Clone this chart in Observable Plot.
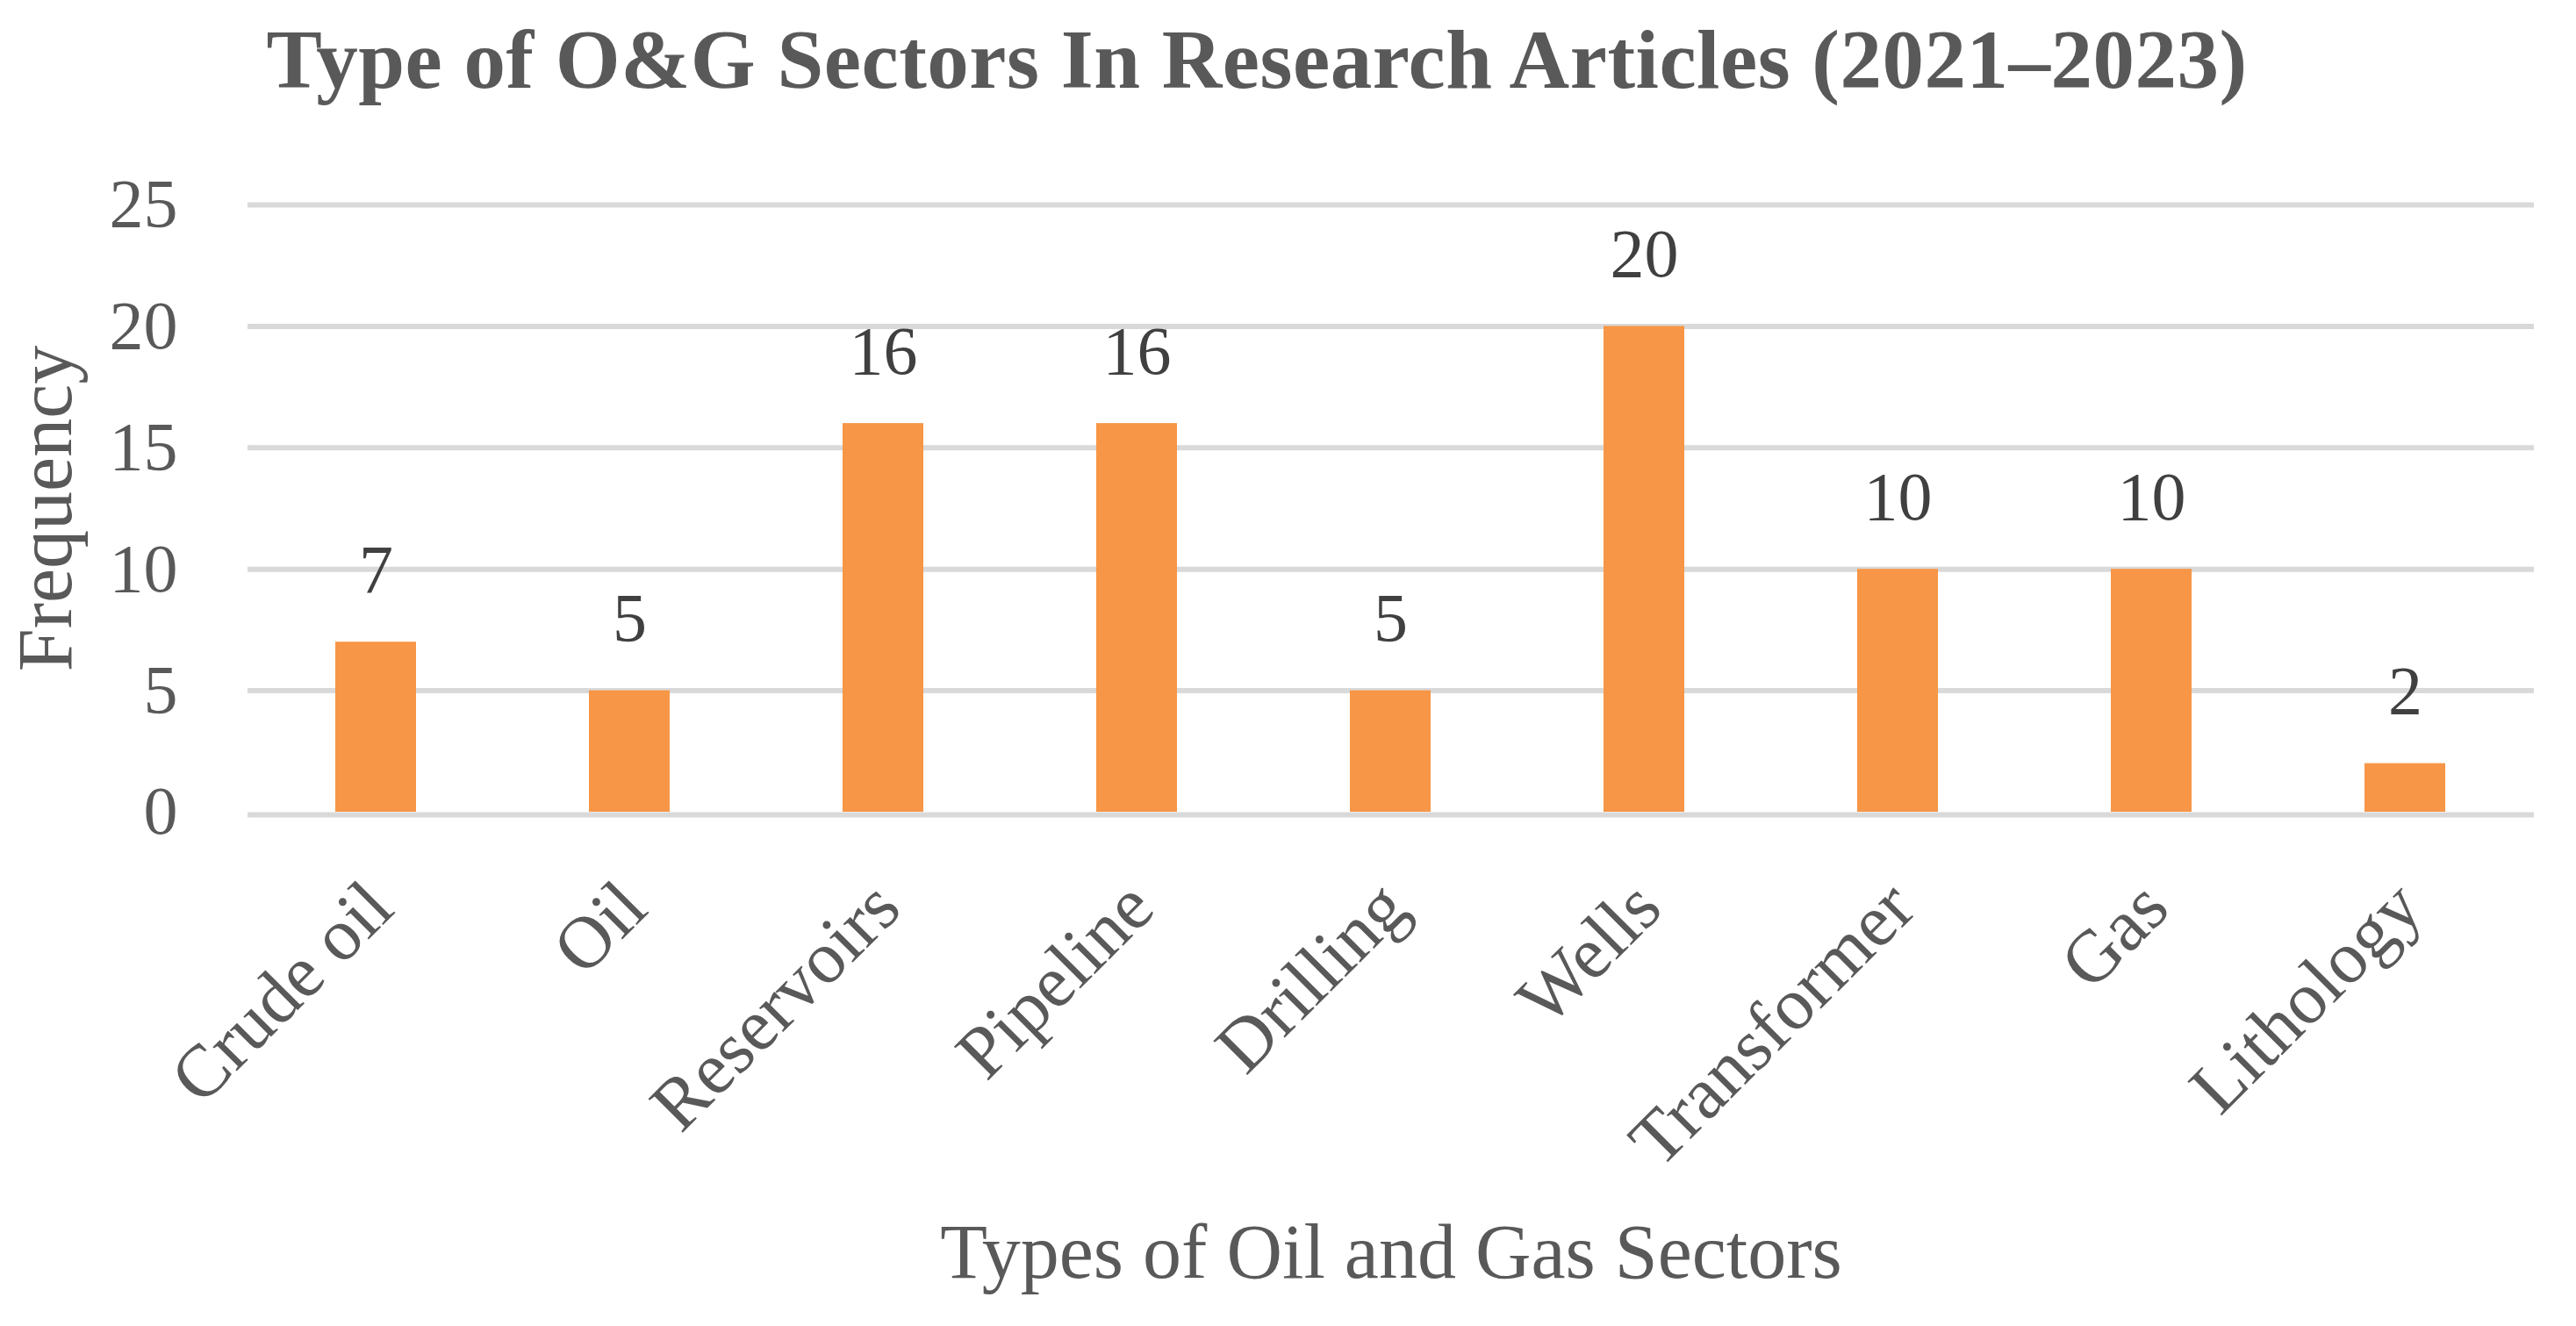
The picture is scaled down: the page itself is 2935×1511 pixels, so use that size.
<!DOCTYPE html>
<html>
<head>
<meta charset="utf-8">
<script src="https://cdn.jsdelivr.net/npm/d3@7"></script>
<script src="https://cdn.jsdelivr.net/npm/@observablehq/plot@0.6"></script>
<style>
  html, body { margin: 0; padding: 0; background: #fff; }
  body { width: 2935px; height: 1511px; overflow: hidden; }
  #title {
    width: 2864px; height: 127px; padding-top: 23px;
    text-align: center; line-height: 90px;
    font-family: "Palatino Linotype", "Book Antiqua", Palatino, "Liberation Serif", serif;
    font-weight: bold; font-size: 95px; letter-spacing: 0.5px; color: #595959; white-space: nowrap;
  }
  #chart svg { display: block; }
</style>
</head>
<body>
<div id="title"></div>
<div id="chart"></div>
<script>
const titleText = "Type of O&G Sectors In Research Articles (2021–2023)";
const xTitle = "Types of Oil and Gas Sectors";
const yTitle = "Frequency";
const categories = ["Crude oil", "Oil", "Reservoirs", "Pipeline", "Drilling", "Wells", "Transformer", "Gas", "Lithology"];
const frequencies = [7, 5, 16, 16, 5, 20, 10, 10, 2];
const yTicks = [0, 5, 10, 15, 20, 25];

document.getElementById("title").textContent = titleText;

const data = categories.map((c, i) => ({category: c, value: frequencies[i]}));
const font = `"Palatino Linotype", "Book Antiqua", Palatino, "Liberation Serif", serif`;

const chart = Plot.plot({
  width: 2935,
  height: 1361,
  marginTop: 83,
  marginBottom: 586,
  marginLeft: 282,
  marginRight: 48,
  style: {fontFamily: font, color: "#595959", background: "#fff", overflow: "visible"},
  x: {domain: categories, paddingInner: 0.68, paddingOuter: 0.34, label: null},
  y: {domain: [0, 25], label: null},
  marks: [
    Plot.ruleY(yTicks.filter(d => d !== 0), {stroke: "#d9d9d9", strokeWidth: 6}),
    Plot.barY(data, {x: "category", y: "value", fill: "#F79646"}),
    Plot.ruleY([0], {stroke: "#d9d9d9", strokeWidth: 6, dy: 3}),
    Plot.axisY({ticks: yTicks, tickSize: 0, tickPadding: 80, fontSize: 78, fill: "#595959", label: null}),
    Plot.axisX({tickSize: 0, tickPadding: 71, tickRotate: -45, textAnchor: "end", lineAnchor: "top", dx: -19, fontSize: 84, fill: "#595959", label: null}),
    Plot.text(data, {x: "category", y: "value", text: d => String(d.value), lineAnchor: "bottom", dy: -57, fontSize: 78, fill: "#404040"}),
    Plot.text([yTitle], {frameAnchor: "left", rotate: -90, dx: -230, fontSize: 88, fill: "#595959", textAnchor: "middle", lineAnchor: "middle"}),
    Plot.text([xTitle], {frameAnchor: "bottom", dy: 530, fontSize: 88, fill: "#595959", textAnchor: "middle", lineAnchor: "bottom"})
  ]
});
document.getElementById("chart").appendChild(chart);
</script>
</body>
</html>
